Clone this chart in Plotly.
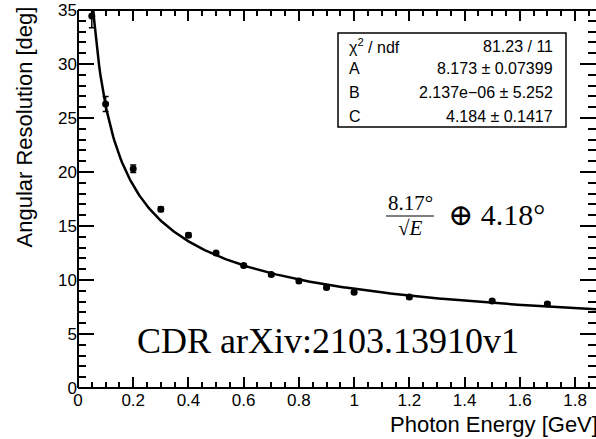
import numpy as np
import plotly.graph_objects as go

# Data
energy = [0.05, 0.1, 0.2, 0.3, 0.4, 0.5, 0.6, 0.7, 0.8, 0.9, 1.0, 1.2, 1.5, 1.7]
resolution = [34.45, 26.3, 20.3, 16.55, 14.15, 12.5, 11.35, 10.5, 9.9, 9.3, 8.87, 8.42, 8.05, 7.78]
res_err = [1.1, 0.7, 0.35, 0.2, 0.2, 0.15, 0.15, 0.15, 0.15, 0.15, 0.15, 0.15, 0.15, 0.15]

# Fit parameters (stat box)
fit_A = 8.173
fit_B = 2.137e-06
fit_C = 4.184
stat_labels = ["χ<sup>2</sup> / ndf", "A", "B", "C"]
stat_values = ["81.23 / 11", "8.173 ± 0.07399", "2.137e−06 ± 5.252", "4.184 ± 0.1417"]

x_range = [0, 1.876]
y_range = [0, 35]

W, H = 596, 439
L, R, T, B = 78, 0, 10, 51
pw, ph = W - L - R, H - T - B

def px(xp):
    return (xp - L) / pw

def py(yp):
    return (H - B - yp) / ph

e_fit = np.linspace(0.04, x_range[1], 400)
res_fit = np.sqrt(fit_A**2 / e_fit + (fit_B / e_fit) ** 2 + fit_C**2)

fig = go.Figure()
fig.add_trace(go.Scatter(x=e_fit, y=res_fit, mode="lines",
                         line=dict(color="black", width=2.5), hoverinfo="skip"))
fig.add_trace(go.Scatter(x=energy, y=resolution, mode="markers",
                         marker=dict(color="black", size=7),
                         error_y=dict(type="data", array=res_err, color="black",
                                      thickness=1.5, width=3)))

font_sans = "Liberation Sans, Arial, sans-serif"
font_serif = "Liberation Serif, Times New Roman, DejaVu Serif, serif"

fig.update_layout(
    width=W, height=H, margin=dict(l=L, r=R, t=T, b=B),
    paper_bgcolor="white", plot_bgcolor="white", showlegend=False,
    font=dict(family=font_sans, color="black"),
)
fig.update_xaxes(range=x_range, showgrid=False, zeroline=False, showline=False,
                 mirror="ticks", ticks="inside", ticklen=11, tickwidth=1.5,
                 tickcolor="black", dtick=0.2, tick0=0,
                 tickfont=dict(size=17, family=font_sans, color="black"),
                 minor=dict(dtick=0.05, ticks="inside", ticklen=6,
                            tickwidth=1.5, tickcolor="black"))
fig.update_yaxes(range=y_range, showgrid=False, zeroline=False, showline=False,
                 mirror="ticks", ticks="inside", ticklen=16, tickwidth=1.5,
                 tickcolor="black", dtick=5, tick0=0,
                 tickfont=dict(size=17, family=font_sans, color="black"),
                 minor=dict(dtick=1, ticks="inside", ticklen=8,
                            tickwidth=1.5, tickcolor="black"))

# frame (left, bottom, top)
for x0, y0, x1, y1 in [(0, 0, 0, 1), (0, 0, 1, 0), (0, 1, 1, 1)]:
    fig.add_shape(type="line", xref="paper", yref="paper", x0=x0, y0=y0, x1=x1, y1=y1,
                  line=dict(color="black", width=2))

# stat box
fig.add_shape(type="rect", xref="paper", yref="paper",
              x0=px(338), x1=px(566), y0=py(127), y1=py(33),
              line=dict(color="black", width=1.5), fillcolor="white", layer="above")
row_y = [46, 69, 92.5, 116]
for lab, val, yy in zip(stat_labels, stat_values, row_y):
    fig.add_annotation(xref="paper", yref="paper", x=px(347), y=py(yy), text=lab,
                       showarrow=False, xanchor="left", yanchor="middle",
                       font=dict(size=16, family=font_sans, color="black"))
    fig.add_annotation(xref="paper", yref="paper", x=px(555), y=py(yy), text=val,
                       showarrow=False, xanchor="right", yanchor="middle",
                       font=dict(size=16, family=font_sans, color="black"))

# axis titles
fig.add_annotation(xref="paper", yref="paper", x=px(600), y=py(424),
                   text="Photon Energy [GeV]", showarrow=False,
                   xanchor="right", yanchor="middle",
                   font=dict(size=22, family=font_sans, color="black"))
fig.add_annotation(xref="paper", yref="paper", x=px(24), y=py(5),
                   text="Angular Resolution [deg]", showarrow=False, textangle=-90,
                   xanchor="center", yanchor="top",
                   font=dict(size=22, family=font_sans, color="black"))

# formula
fig.add_annotation(xref="paper", yref="paper", x=px(410), y=py(203),
                   text="8.17°", showarrow=False, xanchor="center", yanchor="middle",
                   font=dict(size=21, family=font_serif, color="black"))
fig.add_shape(type="line", xref="paper", yref="paper", x0=px(386), x1=px(434),
              y0=py(216), y1=py(216), line=dict(color="black", width=1.2))
fig.add_annotation(xref="paper", yref="paper", x=px(410), y=py(228),
                   text="√<i>E</i>", showarrow=False, xanchor="center", yanchor="middle",
                   font=dict(size=21, family=font_serif, color="black"))
fig.add_annotation(xref="paper", yref="paper", x=px(446), y=py(214),
                   text="⊕ 4.18°", showarrow=False, xanchor="left", yanchor="middle",
                   font=dict(size=30, family=font_serif, color="black"))

# watermark text
fig.add_annotation(xref="paper", yref="paper", x=px(135), y=py(341),
                   text="CDR arXiv:2103.13910v1", showarrow=False,
                   xanchor="left", yanchor="middle",
                   font=dict(size=36, family=font_serif, color="black"))

fig.write_html("out.html")
